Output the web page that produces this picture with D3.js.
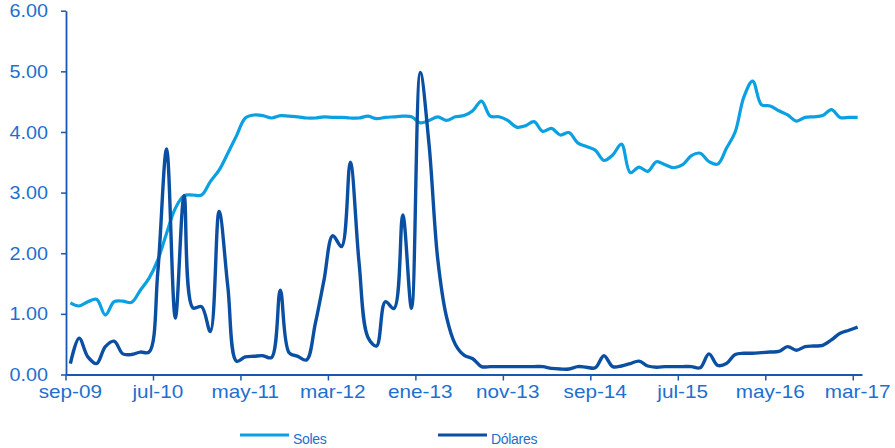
<!DOCTYPE html>
<html>
<head>
<meta charset="utf-8">
<script src="https://cdn.jsdelivr.net/npm/d3@7"></script>
<style>
  html, body { margin: 0; padding: 0; background: #ffffff; }
  svg { display: block; font-family: "Liberation Sans", Arial, sans-serif; }
</style>
</head>
<body>
<svg id="chart" width="895" height="448"></svg>
<script>
// Monthly series, sep-09 through mar-17
const monthNames = ["ene","feb","mar","abr","may","jun","jul","ago","sep","oct","nov","dic"];
const startYear = 2009, startMonth = 8, nMonths = 91;
const categories = [];
for (let k = 0; k < nMonths; k++) {
  const m = (startMonth + k) % 12;
  const yr = startYear + Math.floor((startMonth + k) / 12);
  categories.push(monthNames[m] + "-" + String(yr % 100).padStart(2, "0"));
}

const soles = [
  1.18, 1.13, 1.20, 1.24, 0.98, 1.20, 1.21, 1.19, 1.39, 1.59,
  1.89, 2.33, 2.74, 2.95, 2.96, 2.96, 3.18, 3.37, 3.65, 3.94,
  4.23, 4.28, 4.27, 4.23, 4.27, 4.26, 4.25, 4.23, 4.23, 4.25,
  4.24, 4.24, 4.23, 4.23, 4.26, 4.22, 4.24, 4.25, 4.26, 4.25,
  4.15, 4.19, 4.25, 4.19, 4.25, 4.27, 4.35, 4.51, 4.26, 4.25,
  4.19, 4.08, 4.10, 4.17, 4.01, 4.06, 3.95, 3.99, 3.82, 3.76,
  3.70, 3.53, 3.62, 3.80, 3.33, 3.42, 3.35, 3.51, 3.46, 3.41,
  3.46, 3.61, 3.65, 3.51, 3.47, 3.73, 4.00, 4.58, 4.84, 4.45,
  4.43, 4.35, 4.28, 4.18, 4.24, 4.25, 4.27, 4.37, 4.24, 4.24,
  4.24
];

const dolares = [
  0.18, 0.60, 0.29, 0.18, 0.46, 0.55, 0.34, 0.33, 0.37, 0.37,
  1.70, 3.72, 0.93, 2.95, 1.10, 1.12, 0.71, 2.69, 1.45, 0.22,
  0.29, 0.30, 0.31, 0.28, 1.39, 0.36, 0.30, 0.24, 0.84, 1.56,
  2.29, 2.11, 3.50, 1.85, 0.62, 0.47, 1.20, 1.09, 2.63, 1.09,
  4.98, 3.80, 1.90, 0.95, 0.50, 0.32, 0.26, 0.13, 0.13, 0.13,
  0.13, 0.13, 0.13, 0.13, 0.13, 0.10, 0.09, 0.09, 0.13, 0.12,
  0.11, 0.31, 0.13, 0.14, 0.18, 0.22, 0.14, 0.12, 0.13, 0.13,
  0.13, 0.13, 0.11, 0.34, 0.15, 0.18, 0.33, 0.35, 0.35, 0.36,
  0.37, 0.38, 0.46, 0.40, 0.46, 0.47, 0.48, 0.57, 0.68, 0.73,
  0.78
];

const yTicks = [0, 1, 2, 3, 4, 5, 6];
const xTickEvery = 10;
const seriesNames = ["Soles", "Dólares"];

const colSoles = "#0AA0E2";
const colDolares = "#0B4FA3";
const colAxis = "#1A58B0";
const colText = "#1E6FCF";

const svg = d3.select("#chart");

const plotLeft = 66, plotRight = 862, plotTop = 10.7, plotBottom = 374.5;

const x = d3.scaleBand().domain(categories).range([plotLeft, plotRight]).padding(0);
const bw = x.bandwidth();
const cx = c => x(c) + bw / 2;
const y = d3.scaleLinear().domain([0, 6]).range([plotBottom, plotTop]);

// Widen label glyphs slightly (wide-set axis lettering)
function widen(sel, factor) {
  sel.each(function () {
    const w = this.getComputedTextLength();
    d3.select(this).attr("textLength", w * factor).attr("lengthAdjust", "spacingAndGlyphs");
  });
}

// Y axis
const yAxis = svg.append("g")
  .attr("transform", `translate(${plotLeft},0)`)
  .call(d3.axisLeft(y).tickValues(yTicks).tickFormat(d3.format(".2f"))
    .tickSize(5).tickSizeOuter(0).tickPadding(13));
yAxis.select(".domain").attr("stroke", colAxis).attr("stroke-width", 1.8);
yAxis.selectAll(".tick line").attr("stroke", colAxis).attr("stroke-width", 1.5);
yAxis.selectAll(".tick text").attr("fill", colText).attr("font-size", 19)
  .attr("font-family", "Liberation Sans, Arial, sans-serif");
widen(yAxis.selectAll(".tick text"), 1.04);

// X axis: ticks sit on category boundaries, labels on category centres
const xTickVals = categories.filter((c, i) => i % xTickEvery === 0);
const xAxis = svg.append("g")
  .attr("transform", `translate(0,${plotBottom})`)
  .call(d3.axisBottom(x).tickValues(xTickVals).tickSize(6).tickSizeOuter(0).tickPadding(4));
xAxis.select(".domain").attr("stroke", colAxis).attr("stroke-width", 1.8);
xAxis.selectAll(".tick line").attr("stroke", colAxis).attr("stroke-width", 1.5)
  .attr("x1", -bw / 2).attr("x2", -bw / 2);
xAxis.selectAll(".tick text").attr("fill", colText).attr("font-size", 19)
  .attr("font-family", "Liberation Sans, Arial, sans-serif");
widen(xAxis.selectAll(".tick text"), 1.09);

// Lines
const line = d3.line()
  .x((d, i) => cx(categories[i]))
  .y(d => y(d))
  .curve(d3.curveCatmullRom.alpha(0.5));

svg.append("path").datum(soles)
  .attr("fill", "none").attr("stroke", colSoles).attr("stroke-width", 3.2)
  .attr("stroke-linejoin", "round").attr("d", line);

svg.append("path").datum(dolares)
  .attr("fill", "none").attr("stroke", colDolares).attr("stroke-width", 3.4)
  .attr("stroke-linejoin", "round").attr("d", line);

// Legend
const legendItems = [
  { name: seriesNames[0], color: colSoles, x0: 240 },
  { name: seriesNames[1], color: colDolares, x0: 438 }
];
const lg = svg.append("g");
legendItems.forEach(it => {
  lg.append("line")
    .attr("x1", it.x0).attr("x2", it.x0 + 49)
    .attr("y1", 435).attr("y2", 435)
    .attr("stroke", it.color).attr("stroke-width", 3.2);
  lg.append("text")
    .attr("x", it.x0 + 53).attr("y", 444)
    .attr("fill", colText).attr("font-size", 14)
    .attr("letter-spacing", -0.3)
    .text(it.name);
});
</script>
</body>
</html>
